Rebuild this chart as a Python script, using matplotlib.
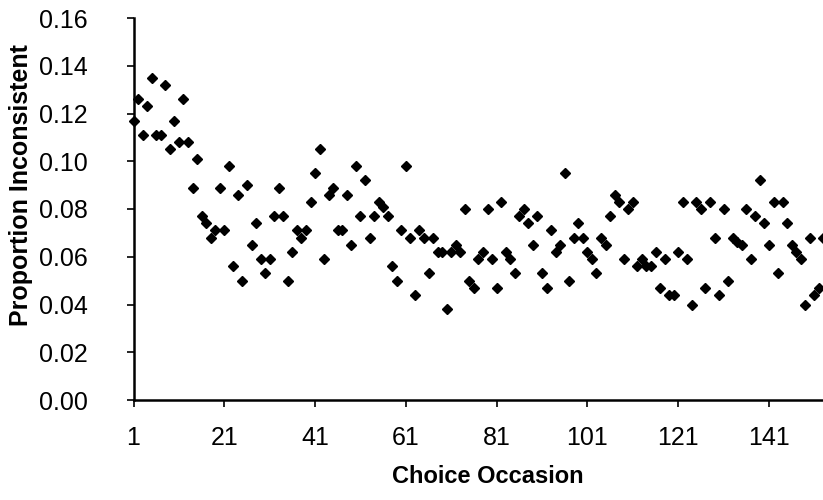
import numpy as np
import matplotlib
matplotlib.use('Agg')
import matplotlib.pyplot as plt

""" datos """
ocasion = np.arange(1, 154)
proporcion = [
    0.117, 0.126, 0.111, 0.123, 0.135, 0.111, 0.111, 0.132, 0.105, 0.117,
    0.108, 0.126, 0.108, 0.089, 0.101, 0.077, 0.074, 0.068, 0.071, 0.089,
    0.071, 0.098, 0.056, 0.086, 0.050, 0.090, 0.065, 0.074, 0.059, 0.053,
    0.059, 0.077, 0.089, 0.077, 0.050, 0.062, 0.071, 0.068, 0.071, 0.083,
    0.095, 0.105, 0.059, 0.086, 0.089, 0.071, 0.071, 0.086, 0.065, 0.098,
    0.077, 0.092, 0.068, 0.077, 0.083, 0.081, 0.077, 0.056, 0.050, 0.071,
    0.098, 0.068, 0.044, 0.071, 0.068, 0.053, 0.068, 0.062, 0.062, 0.038,
    0.062, 0.065, 0.062, 0.080, 0.050, 0.047, 0.059, 0.062, 0.080, 0.059,
    0.047, 0.083, 0.062, 0.059, 0.053, 0.077, 0.080, 0.074, 0.065, 0.077,
    0.053, 0.047, 0.071, 0.062, 0.065, 0.095, 0.050, 0.068, 0.074, 0.068,
    0.062, 0.059, 0.053, 0.068, 0.065, 0.077, 0.086, 0.083, 0.059, 0.080,
    0.083, 0.056, 0.059, 0.056, 0.056, 0.062, 0.047, 0.059, 0.044, 0.044,
    0.062, 0.083, 0.059, 0.040, 0.083, 0.080, 0.047, 0.083, 0.068, 0.044,
    0.080, 0.050, 0.068, 0.066, 0.065, 0.080, 0.059, 0.077, 0.092, 0.074,
    0.065, 0.083, 0.053, 0.083, 0.074, 0.065, 0.062, 0.059, 0.040, 0.068,
    0.044, 0.047, 0.068,
]
xticks = [1, 21, 41, 61, 81, 101, 121, 141]
yticks = np.arange(0, 0.161, 0.02)

""" graficar """
plt.rcParams['font.family'] = ['Liberation Sans', 'DejaVu Sans']
fig = plt.figure(figsize=(8.23, 5.0), dpi=100)
ax = fig.add_axes([133.5 / 823, 0.2, 1 - 133.5 / 823, 0.764])

ax.plot(ocasion, proporcion, linestyle='none', marker='D', markersize=5,
        color='black', clip_on=False, zorder=3)

ax.set_xlim(1, 152.9)
ax.set_ylim(0, 0.16)
ax.set_xticks(xticks)
ax.set_yticks(yticks)
ax.set_yticklabels([f'{v:.2f}' for v in yticks])
ax.tick_params(axis='both', direction='out', length=5, width=1.2,
               labelsize=18, colors='black')
ax.tick_params(axis='y', pad=28)
ax.tick_params(axis='x', pad=14)
for lado in ['top', 'right']:
    ax.spines[lado].set_visible(False)
for lado in ['left', 'bottom']:
    ax.spines[lado].set_linewidth(1.8)

ax.set_xlabel('Choice Occasion', fontsize=17, fontweight='bold',
              va='center', ha='center')
ax.set_ylabel('Proportion Inconsistent', fontsize=18, fontweight='bold',
              va='center', ha='center')
ax.xaxis.set_label_coords(0.514, -0.199)
ax.yaxis.set_label_coords(-0.163, 0.563)

fig.savefig('out.png', dpi=100)
